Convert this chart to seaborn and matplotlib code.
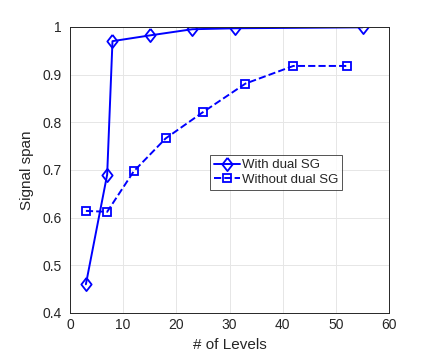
import pandas as pd
import matplotlib
matplotlib.use("Agg")
import matplotlib.pyplot as plt
import seaborn as sns

sns.set_style("whitegrid")
plt.rcParams["font.family"] = ["Liberation Sans", "DejaVu Sans"]

# data
levels_with = [3, 7, 8, 15, 23, 31, 55]
span_with = [0.46, 0.69, 0.97, 0.982, 0.995, 0.997, 0.999]
levels_without = [3, 7, 12, 18, 25, 33, 42, 52]
span_without = [0.614, 0.612, 0.697, 0.766, 0.821, 0.881, 0.918, 0.918]

fig = plt.figure(figsize=(4.29, 3.58), dpi=100)
ax = fig.add_axes([0.163, 0.126, 0.744, 0.799])

blue = "#0000ff"
diamond = [(0, 1), (0.78, 0), (0, -1), (-0.78, 0), (0, 1)]
sns.lineplot(x=levels_with, y=span_with, ax=ax, color=blue, marker=diamond,
             markersize=9.5, markerfacecolor="none", markeredgecolor=blue,
             markeredgewidth=1.3, linewidth=1.4, label="With dual SG")
sns.lineplot(x=levels_without, y=span_without, ax=ax, color=blue, marker="s",
             markersize=5.5, markerfacecolor="none", markeredgecolor=blue,
             markeredgewidth=1.3, linewidth=1.4, linestyle="--",
             label="Without dual SG")

ax.set_xlim(0, 60)
ax.set_ylim(0.4, 1.0)
ax.set_xticks(range(0, 61, 10))
ax.set_yticks([0.4, 0.5, 0.6, 0.7, 0.8, 0.9, 1.0])
ax.set_yticklabels(["0.4", "0.5", "0.6", "0.7", "0.8", "0.9", "1"])
ax.grid(True, color="#e6e6e6", linewidth=0.7)
for s in ax.spines.values():
    s.set_color("#262626")
    s.set_linewidth(0.7)
ax.tick_params(axis="both", labelsize=10, colors="#262626", direction="in",
               length=3, width=0.7, pad=4)
ax.tick_params(axis="y", pad=6)
ax.set_xlabel("# of Levels", fontsize=11, color="#262626")
ax.set_ylabel("Signal span", fontsize=11, color="#262626", labelpad=6)

leg = ax.legend(loc="upper left", bbox_to_anchor=(0.439, 0.552), fontsize=9.5,
                frameon=True, fancybox=False, borderpad=0.3, labelspacing=0.2,
                handlelength=2.0, handletextpad=0.1, borderaxespad=0)
leg.get_frame().set_edgecolor("#262626")
leg.get_frame().set_linewidth(0.7)

fig.savefig("out.png", dpi=100)
